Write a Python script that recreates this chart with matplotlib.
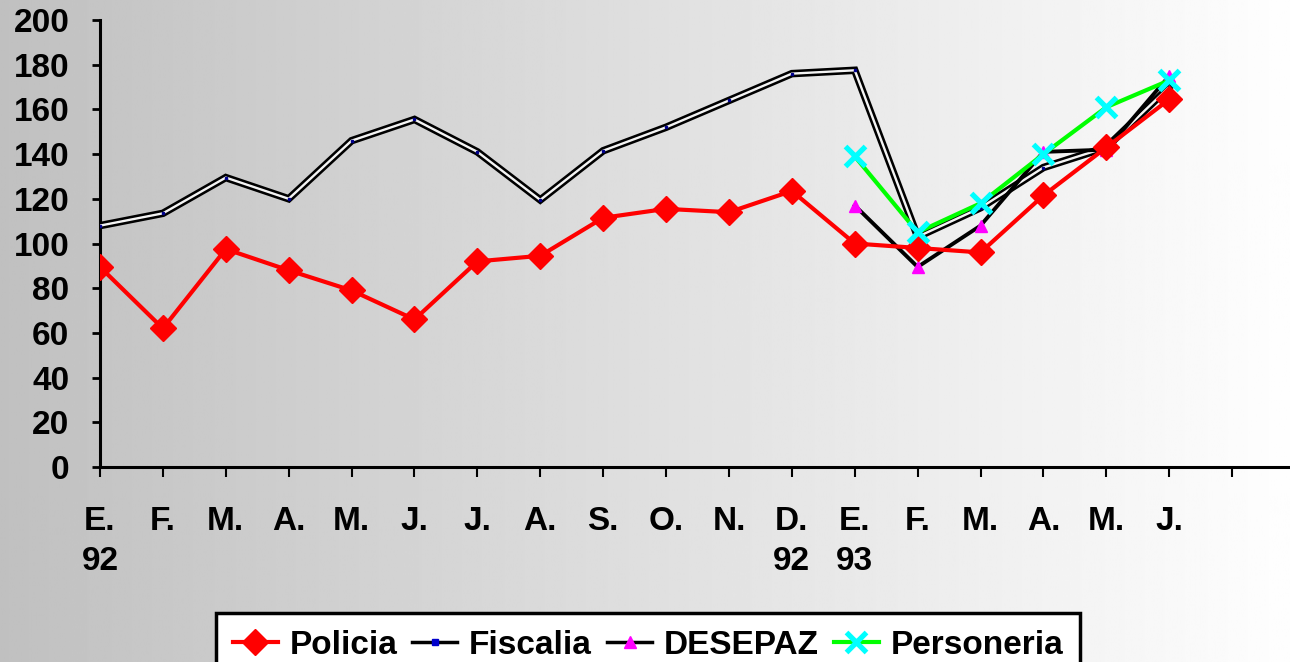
import numpy as np
import matplotlib
matplotlib.use("Agg")
import matplotlib.pyplot as plt
from matplotlib.lines import Line2D

plt.rcParams['font.family'] = ['Liberation Sans', 'DejaVu Sans']
plt.rcParams['font.weight'] = 'bold'

months = ["E.\n92", "F.", "M.", "A.", "M.", "J.", "J.", "A.", "S.", "O.", "N.",
          "D.\n92", "E.\n93", "F.", "M.", "A.", "M.", "J."]
policia = [89.5, 62, 97.5, 88, 79, 66, 92, 94.5, 111.5, 115.5, 114, 123.5,
           100, 98, 96, 121.5, 143, 164.5]
fiscalia = [108, 113.5, 129.5, 120, 146, 155.5, 141, 119.5, 141.5, 152, 164, 176,
            177.5, 103, 116, 134, 143, 170]
desepaz = [None] * 12 + [117, 89.5, 108, 141, 142, 175]
personeria = [None] * 12 + [139, 105, 118, 140, 161, 173]

W, H = 1290, 662
FS = 24
fig = plt.figure(figsize=(W / 100, H / 100), dpi=100)

# gradient background
bg = fig.add_axes([0, 0, 1, 1], zorder=-10)
grad = np.linspace(192, 254, 512) / 255.0
img = np.tile(grad, (2, 1))
bg.imshow(img, cmap='gray', vmin=0, vmax=1, aspect='auto', extent=[0, 1, 0, 1])
bg.set_axis_off()

ax = fig.add_axes([100 / W, 1 - 467 / H, 1 - 100 / W, (467 - 20) / H])
ax.set_facecolor('none')

x = np.arange(len(months))

def arr(v):
    return np.array([np.nan if a is None else a for a in v], dtype=float)

# Fiscalia: double line (black outer, light core)
ax.plot(x, fiscalia, color='black', lw=5.4, solid_joinstyle='miter', zorder=3)
ax.plot(x, fiscalia, color='#f4f4f4', lw=1.7, solid_joinstyle='miter', zorder=3.1)
ax.plot(x, fiscalia, ls='none', marker='s', ms=1.8, color='#00008b', zorder=3.2)

# DESEPAZ
ax.plot(x, arr(desepaz), color='black', lw=2.8, marker='^', ms=8.5,
        mfc='#ff00ff', mec='#ff00ff', zorder=4)

# Policia
ax.plot(x, policia, color='#ff0000', lw=3, marker='D', ms=13,
        mfc='#ff0000', mec='#ff0000', zorder=5)

# Personeria
ax.plot(x, arr(personeria), color='#00ff00', lw=3, marker='x', ms=15,
        mew=3.8, mec='#00ffff', zorder=6)

ax.set_ylim(0, 200)
ax.set_xlim(0, 18.92)
ax.set_yticks(np.arange(0, 201, 20))
ax.set_xticks(np.arange(0, 19))
ax.set_xticklabels(months + [""], fontsize=FS, fontweight='bold', linespacing=1.4)
ax.tick_params(axis='y', labelsize=FS, length=6, width=2, pad=16, direction='out')
ax.tick_params(axis='x', length=7, width=1.5, pad=21, direction='out')
for lab in ax.get_yticklabels():
    lab.set_fontweight('bold')

for s in ['top', 'right']:
    ax.spines[s].set_visible(False)
ax.spines['left'].set_linewidth(2.2)
ax.spines['bottom'].set_linewidth(2.2)

handles = [
    Line2D([], [], color='#ff0000', lw=3, marker='D', ms=13, mfc='#ff0000', mec='#ff0000'),
    Line2D([], [], color='black', lw=2.5, marker='s', ms=4, mfc='#0000cc', mec='#0000cc'),
    Line2D([], [], color='black', lw=2.5, marker='^', ms=8, mfc='#ff00ff', mec='#ff00ff'),
    Line2D([], [], color='#00ff00', lw=3, marker='x', ms=15, mew=3.8, mec='#00ffff'),
]
labels = ["Policia", "Fiscalia", "DESEPAZ", "Personeria"]
leg = fig.legend(handles, labels, loc='upper center', bbox_to_anchor=(648 / W, 1 - 613 / H),
                 ncol=4, fontsize=FS, frameon=True, fancybox=False, shadow=False,
                 handlelength=1.35, handletextpad=0.35, columnspacing=0.45,
                 borderpad=0.5, borderaxespad=0)
frame = leg.get_frame()
frame.set_edgecolor('black')
frame.set_linewidth(2.5)
frame.set_facecolor('white')
frame.set_alpha(1)
for t in leg.get_texts():
    t.set_fontweight('bold')

fig.savefig('out.png', dpi=100)
